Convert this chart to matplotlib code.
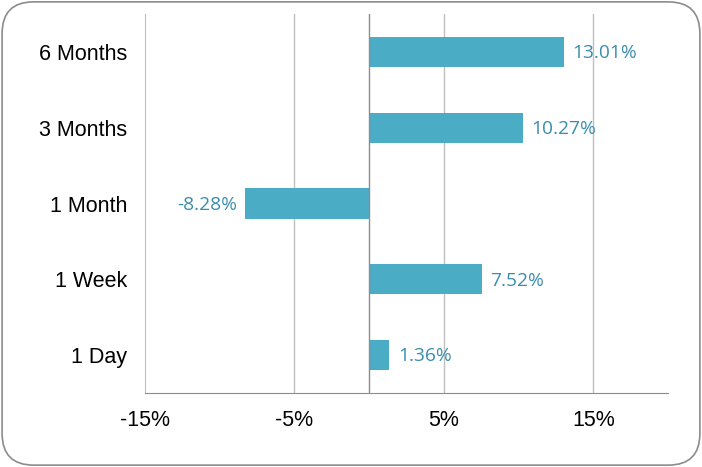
import matplotlib.pyplot as plt
from matplotlib.patches import FancyBboxPatch

# Data
periods = ["1 Day", "1 Week", "1 Month", "3 Months", "6 Months"]
returns = [1.36, 7.52, -8.28, 10.27, 13.01]
xticks = [-15, -5, 5, 15]

bar_color = "#4BACC6"
label_color = "#3A8DAE"

fig = plt.figure(figsize=(7.02, 4.67), dpi=100)
ax = fig.add_axes([145 / 702, 1 - 393 / 467, (668 - 145) / 702, (393 - 14) / 467])

ax.barh(periods, returns, height=0.4, color=bar_color, zorder=2)

for y, v in enumerate(returns):
    txt = f"{v:.2f}%"
    if v >= 0:
        ax.annotate(txt, (v, y), xytext=(6, -1), textcoords="offset points",
                    ha="left", va="center", color=label_color, fontsize=13.8,
                    family="Open Sans", zorder=4)
    else:
        ax.annotate(txt, (v, y), xytext=(-6, -1), textcoords="offset points",
                    ha="right", va="center", color=label_color, fontsize=13.8,
                    family="Open Sans", zorder=4)

ax.set_xlim(-15, 20)
ax.set_ylim(-0.5, 4.5)
ax.set_xticks(xticks)
ax.set_xticklabels([f"{t}%" for t in xticks])
for t in xticks[1:]:
    ax.axvline(t, color="#BFBFBF", linewidth=1, zorder=1)
ax.axvline(0, color="#8C8C8C", linewidth=1, zorder=3)

ax.tick_params(axis="both", length=0, labelsize=15.5)
ax.tick_params(axis="x", pad=12)
ax.tick_params(axis="y", pad=13)
for lab in ax.get_xticklabels() + ax.get_yticklabels():
    lab.set_family("Liberation Sans")

ax.spines["top"].set_visible(False)
ax.spines["right"].set_visible(False)
ax.spines["left"].set_color("#BFBFBF")
ax.spines["bottom"].set_color("#8C8C8C")

# Rounded outer border
border = FancyBboxPatch((0.003, 0.004), 0.994, 0.992,
                        boxstyle="round,pad=0,rounding_size=0.045",
                        transform=fig.transFigure, facecolor="none",
                        edgecolor="#8C8C8C", linewidth=1.2,
                        mutation_aspect=702 / 467)
fig.patches.append(border)

fig.savefig("out.png", dpi=100)
